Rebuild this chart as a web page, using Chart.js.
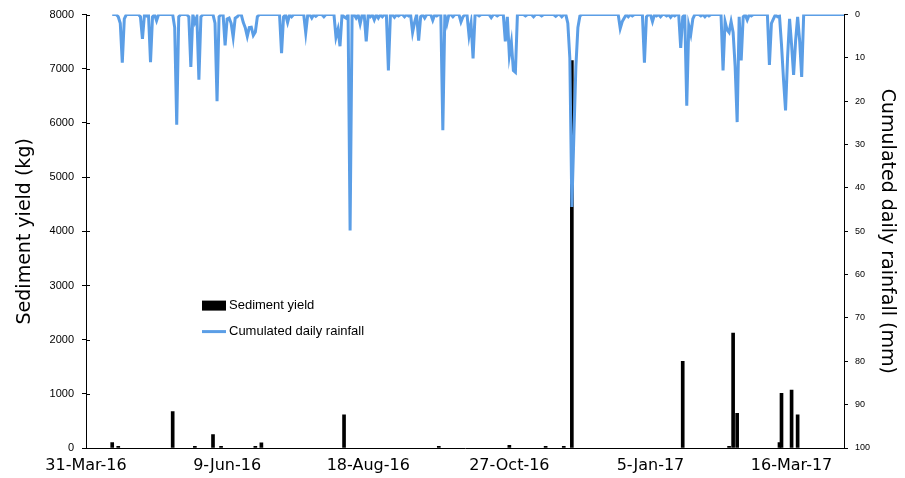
<!DOCTYPE html>
<html>
<head>
<meta charset="utf-8">
<title>Sediment yield and rainfall</title>
<script src="https://cdn.jsdelivr.net/npm/chart.js@4.4.1/dist/chart.umd.min.js"></script>
<style>
  html, body { margin: 0; padding: 0; background: #fff; }
  #wrap { width: 905px; height: 478px; position: relative; }
</style>
</head>
<body>
<div id="wrap"><canvas id="chart"></canvas></div>
<script>
// Day numbers are counted from 31-Mar-16 (day 0).
const tickLabels = ['31-Mar-16', '9-Jun-16', '18-Aug-16', '27-Oct-16', '5-Jan-17', '16-Mar-17'];
const tickStep = 70;
const axisEnd = 376;

// Sediment yield per event (kg)
const sedDays = [13, 16, 43, 54, 63, 67, 84, 87, 128, 175, 210, 228, 237, 241, 296, 319, 321, 323, 344, 345, 350, 353];
const sedKg   = [100, 30, 670, 30, 250, 30, 30, 95, 610, 30, 50, 30, 30, 7150, 1600, 30, 2120, 640, 100, 1010, 1070, 610];

// Rainfall record: first and last day, rainy days and their totals (mm); other days are dry
const rainStart = 13;
const rainEnd = 376;
const rainDays = [16, 17, 18, 19, 27, 28, 30, 32, 33, 35, 44, 45, 46, 51, 52, 54, 55, 56, 57, 64, 65, 66,
  69, 70, 71, 72, 73, 74, 75, 78, 79, 80, 81, 82, 83, 84, 85, 97, 98, 100, 102, 109, 112, 114, 118,
  124, 125, 126, 128, 129, 131, 134, 136, 139, 141, 143, 145, 147, 150, 153, 155, 158, 160, 162, 163,
  165, 166, 168, 172, 174, 177, 179, 182, 186, 187, 190, 191, 192, 195, 201, 204, 208, 209, 210, 211,
  212, 213, 218, 222, 226, 233, 236, 239, 240, 241, 242, 243, 244, 245, 265, 266, 267, 269, 271, 277,
  278, 281, 283, 285, 288, 290, 292, 295, 296, 298, 299, 300, 301, 305, 307, 309, 316, 317, 318, 319,
  320, 321, 322, 323, 324, 325, 326, 328, 330, 339, 340, 341, 343, 344, 345, 346, 347, 348, 349, 350,
  351, 352, 353, 354, 355];
const rainMm = [0.5, 2, 11.1, 1, 0.5, 5.6, 0.3, 11, 0.5, 1.4, 3, 25.4, 0.5, 0.5, 12.1, 1.8, 0.5, 15, 0.5, 2, 20, 0.5,
  7.1, 1, 0.8, 2, 5.2, 0.8, 0.5, 1.8, 3, 5, 3, 2.9, 4.8, 4, 0.5, 8.9, 0.5, 1.8, 0.5, 4.2, 0.8, 0.4, 0.5,
  5.2, 3.4, 7.3, 0.5, 0.8, 49.8, 0.8, 2.1, 6.2, 0.5, 1.2, 0.8, 0.5, 12.9, 0.6, 0.3, 0.5, 0.3, 4.1, 1.8,
  6, 0.5, 0.8, 1.3, 0.3, 26.7, 2.1, 0.5, 1.7, 0.5, 4.8, 2, 10.1, 0.3, 0.7, 0.3, 6.2, 0.5, 9.4, 6.4,
  12.9, 13.3, 0.3, 0.5, 0.3, 0.4, 0.5, 2, 10, 44.4, 28, 12, 3, 0.3, 3.2, 1.6, 0.8, 0.5, 0.3, 11.1,
  0.5, 1.6, 0.3, 0.5, 0.3, 0.6, 0.3, 7.7, 0.5, 21, 2.5, 4.5, 1, 0.3, 0.5, 0.3, 12.9, 1.6, 3.5, 4.1,
  1.6, 4.1, 12, 24.8, 0.5, 10.6, 0.5, 1.2, 0.3, 11.6, 2, 1, 0.5, 0.3, 7, 15, 22.1, 10, 1, 7,
  13.9, 6, 0.5, 6, 14.4];

const rainByDay = new Map(rainDays.map((d, i) => [d, rainMm[i]]));
const rainPoints = [];
for (let d = rainStart; d <= rainEnd; d++) {
  rainPoints.push({ x: d, y: rainByDay.has(d) ? rainByDay.get(d) : 0 });
}
const sedPoints = sedDays.map((d, i) => ({ x: d, y: sedKg[i] }));

const blue = '#5b9ee6';

// ticks of the left axis cross the axis line
const crossTicks = {
  id: 'crossTicks',
  afterDraw(chart) {
    const { ctx, chartArea } = chart;
    const y = chart.scales.y;
    ctx.save();
    ctx.strokeStyle = '#000';
    ctx.lineWidth = 1;
    y.ticks.forEach(t => {
      const py = Math.round(y.getPixelForValue(t.value)) + 0.5;
      ctx.beginPath();
      ctx.moveTo(chartArea.left, py);
      ctx.lineTo(chartArea.left + 4, py);
      ctx.stroke();
    });
    ctx.restore();
  }
};

// legend drawn inside the plot, lower left
const insideLegend = {
  id: 'insideLegend',
  afterDraw(chart) {
    const { ctx, chartArea } = chart;
    const x = chartArea.left + 116;
    const y = chartArea.top + 291;
    const ds = chart.data.datasets;
    ctx.save();
    ctx.font = '13px "Liberation Sans", Arial, sans-serif';
    ctx.textBaseline = 'middle';
    ctx.fillStyle = '#000';
    ctx.fillRect(x, y - 5, 24, 10);
    ctx.fillText(ds[0].label, x + 27, y);
    ctx.strokeStyle = blue;
    ctx.lineWidth = 3;
    ctx.beginPath();
    ctx.moveTo(x, y + 26);
    ctx.lineTo(x + 24, y + 26);
    ctx.stroke();
    ctx.fillStyle = '#000';
    ctx.fillText(ds[1].label, x + 27, y + 26);
    ctx.restore();
  }
};

new Chart(document.getElementById('chart'), {
  type: 'bar',
  data: {
    datasets: [
      {
        type: 'bar',
        label: 'Sediment yield',
        data: sedPoints,
        backgroundColor: '#000',
        borderWidth: 0,
        barThickness: 3,
        xAxisID: 'x',
        yAxisID: 'y',
        order: 2
      },
      {
        type: 'line',
        label: 'Cumulated daily rainfall',
        data: rainPoints,
        borderColor: blue,
        borderWidth: 3,
        pointRadius: 0,
        tension: 0,
        fill: false,
        xAxisID: 'x',
        yAxisID: 'y2',
        order: 1
      }
    ]
  },
  options: {
    responsive: true,
    maintainAspectRatio: false,
    devicePixelRatio: 1,
    animation: false,
    layout: { padding: { top: 14, left: 0, right: 0, bottom: 0 } },
    plugins: {
      legend: { display: false },
      tooltip: { enabled: false }
    },
    scales: {
      x: {
        type: 'linear',
        position: 'bottom',
        min: 0,
        max: axisEnd,
        offset: false,
        grid: { drawOnChartArea: false, drawTicks: false, offset: false },
        border: { display: true, color: '#000', width: 1 },
        ticks: {
          stepSize: tickStep,
          includeBounds: false,
          autoSkip: false,
          maxRotation: 0,
          padding: 8,
          color: '#000',
          font: { family: '"DejaVu Sans", sans-serif', size: 16 },
          callback: v => (v % tickStep === 0 ? (tickLabels[v / tickStep] || '') : '')
        },
        afterFit: s => { s.height = 30; }
      },
      y: {
        position: 'left',
        min: 0,
        max: 8000,
        grid: { drawOnChartArea: false, tickLength: 4, color: '#000' },
        border: { display: true, color: '#000', width: 1 },
        ticks: {
          stepSize: 1000,
          padding: 8,
          color: '#000',
          font: { family: '"Liberation Sans", Arial, sans-serif', size: 11 },
          callback: v => String(v)
        },
        title: {
          display: true,
          text: 'Sediment yield (kg)',
          color: '#000',
          font: { family: '"DejaVu Sans", sans-serif', size: 19 },
          padding: { top: 14, bottom: 0 }
        },
        afterFit: s => { s.width = 86; }
      },
      y2: {
        position: 'right',
        reverse: true,
        min: 0,
        max: 100,
        grid: { drawOnChartArea: false, tickLength: 4, color: '#000' },
        border: { display: true, color: '#000', width: 1 },
        ticks: {
          stepSize: 10,
          padding: 7,
          color: '#000',
          font: { family: '"Liberation Sans", Arial, sans-serif', size: 9 },
          callback: v => String(v)
        },
        title: {
          display: true,
          text: 'Cumulated daily rainfall (mm)',
          color: '#000',
          font: { family: '"DejaVu Sans", sans-serif', size: 19 },
          padding: { top: 7, bottom: 0 }
        },
        afterFit: s => { s.width = 61; }
      }
    }
  },
  plugins: [crossTicks, insideLegend]
});
</script>
</body>
</html>
